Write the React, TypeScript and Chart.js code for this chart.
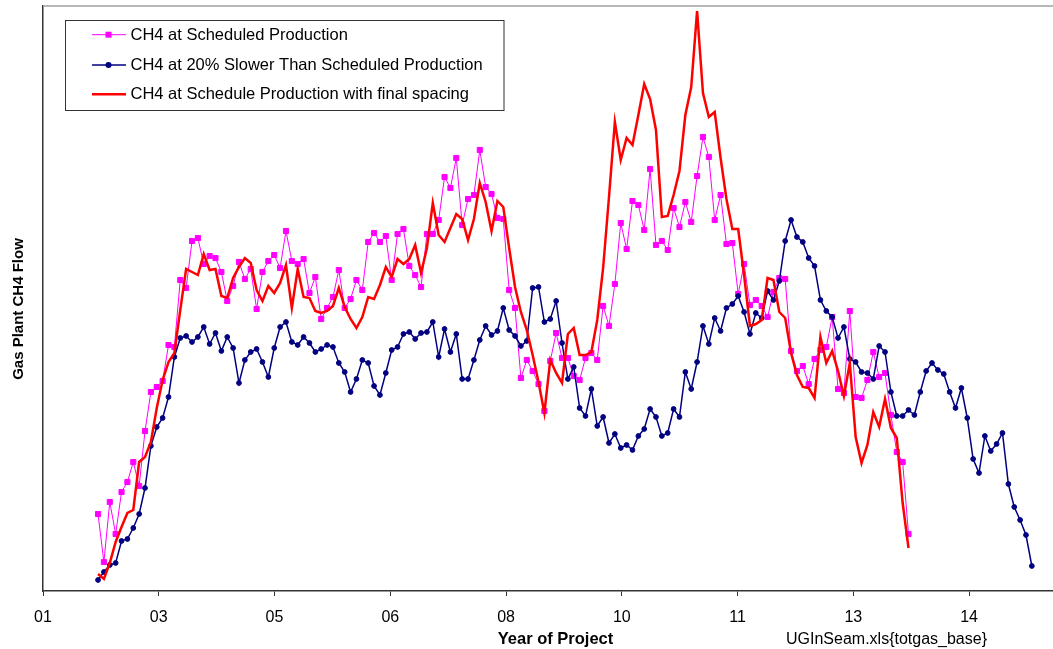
import React, { useEffect, useRef } from "react";
import { Chart, registerables } from "chart.js";

Chart.register(...registerables);

// Monthly values (arbitrary flow units), one point per month from the first month of production
const SCHEDULED: number[] = [
  77, 29, 89, 57, 99, 109, 129, 105, 160, 199,
  204, 210, 246, 244, 311, 303, 350, 353, 327, 335,
  333, 319, 290, 305, 329, 312, 322, 282, 319, 330,
  336, 323, 360, 330, 327, 332, 298, 314, 272, 283,
  294, 321, 283, 292, 311, 301, 349, 358, 349, 355,
  311, 357, 362, 325, 316, 304, 357, 357, 371, 414,
  403, 433, 366, 392, 396, 441, 404, 397, 373, 372,
  301, 283, 213, 231, 220, 207, 180, 230, 258, 233,
  233, 215, 211, 233, 238, 231, 285, 265, 307, 368,
  342, 390, 386, 361, 422, 346, 350, 341, 383, 364,
  389, 369, 415, 454, 434, 371, 396, 347, 348, 297,
  327, 286, 291, 285, 274, 299, 313, 312, 240, 220,
  225, 207, 232, 241, 244, 274, 202, 198, 280, 194,
  193, 211, 239, 214, 218, 176, 139, 129, 57,
];

const SLOWER: number[] = [
  11, 19, 26, 28, 50, 52, 63, 77, 103, 145,
  164, 173, 194, 234, 253, 255, 249, 254, 264, 247,
  258, 240, 254, 243, 208, 231, 239, 242, 229, 214,
  243, 264, 269, 249, 246, 254, 248, 239, 242, 246,
  244, 228, 219, 199, 212, 231, 228, 205, 196, 218,
  241, 244, 257, 259, 252, 258, 259, 269, 234, 262,
  239, 257, 212, 212, 231, 251, 265, 256, 260, 283,
  261, 255, 245, 250, 303, 304, 269, 272, 290, 248,
  212, 224, 183, 175, 202, 165, 174, 148, 157, 143,
  146, 141, 155, 162, 182, 174, 155, 158, 182, 174,
  219, 202, 229, 265, 247, 273, 260, 283, 287, 295,
  279, 257, 278, 273, 300, 291, 310, 350, 371, 354,
  349, 333, 325, 291, 280, 274, 253, 264, 232, 229,
  219, 218, 212, 245, 239, 199, 175, 175, 181, 176,
  199, 220, 228, 221, 217, 199, 183, 203, 173, 132,
  118, 155, 140, 147, 158, 107, 84, 71, 56, 25,
];

const FINAL_SPACING: number[] = [
  17, 12, 28, 49, 64, 78, 81, 129, 134, 149,
  183, 211, 229, 238, 281, 322, 319, 316, 337, 321,
  322, 295, 293, 313, 324, 333, 328, 301, 290, 305,
  298, 308, 326, 283, 322, 294, 293, 280, 278, 280,
  285, 303, 284, 272, 263, 274, 294, 292, 306, 324,
  314, 332, 327, 332, 346, 318, 343, 388, 356, 349,
  363, 377, 372, 351, 372, 408, 389, 360, 390, 384,
  343, 304, 279, 261, 236, 209, 178, 231, 218, 208,
  257, 263, 236, 236, 239, 271, 323, 394, 469, 431,
  453, 446, 476, 507, 492, 461, 374, 375, 396, 420,
  476, 504, 580, 498, 474, 479, 433, 392, 362, 362,
  316, 265, 267, 271, 313, 311, 279, 273, 238, 216,
  204, 203, 193, 254, 228, 240, 220, 195, 228, 154,
  128, 146, 179, 164, 192, 163, 153, 88, 43,
];

const TICK_LABELS: string[] = ["01", "03", "05", "06", "08", "10", "11", "13", "14"];
const FIRST_TICK = -9.37; // months relative to first data point
const TICK_STEP = 19.71; // months between labelled ticks (600 days)
const X_MIN = -9.37;
const X_MAX = 162.6;
const Y_MAX = 585;

const LEGEND_LABELS: string[] = [
  "CH4 at Scheduled Production",
  "CH4 at 20% Slower Than Scheduled Production",
  "CH4 at Schedule Production with final spacing",
];

const MAGENTA = "#FF00FF";
const NAVY = "#000080";
const RED = "#FF0000";
const FONT = '"Liberation Sans", Arial, sans-serif';

const toPoints = (arr: number[]) => arr.map((v, i) => ({ x: i, y: v }));

const extrasPlugin = {
  id: "extras",
  afterLayout(chart: any) {
    // let the plot area run to the right edge of the canvas, as in the original
    const ca = chart.chartArea;
    if (ca.right < chart.width) {
      ca.right = chart.width;
      ca.width = ca.right - ca.left;
      const xs = chart.scales.x;
      xs.right = chart.width;
      xs.width = xs.right - xs.left;
      xs.configure();
    }
  },
  beforeDatasetsDraw(chart: any) {
    const { ctx, chartArea: ca } = chart;
    ctx.save();
    ctx.strokeStyle = "#a0a0a0";
    ctx.lineWidth = 1.5;
    ctx.beginPath();
    ctx.moveTo(ca.left, ca.top);
    ctx.lineTo(chart.width, ca.top);
    ctx.stroke();
    ctx.restore();
  },
  afterDraw(chart: any) {
    const { ctx } = chart;
    ctx.save();
    // Legend box
    ctx.fillStyle = "#ffffff";
    ctx.fillRect(66, 20, 438, 90);
    ctx.strokeStyle = "#333333";
    ctx.lineWidth = 1;
    ctx.strokeRect(65.5, 20.5, 438.5, 90);
    const rows = [34.7, 65, 94.3];
    const colors = [MAGENTA, NAVY, RED];
    const widths = [1, 1.5, 2.5];
    for (let k = 0; k < 3; k++) {
      const y = rows[k];
      ctx.strokeStyle = colors[k];
      ctx.lineWidth = widths[k];
      ctx.beginPath();
      ctx.moveTo(92, y);
      ctx.lineTo(126, y);
      ctx.stroke();
      ctx.fillStyle = colors[k];
      if (k === 0) {
        ctx.fillRect(105.5, y - 3, 6, 6);
      } else if (k === 1) {
        ctx.beginPath();
        ctx.arc(108.5, y, 3, 0, Math.PI * 2);
        ctx.fill();
      }
      ctx.fillStyle = "#000000";
      ctx.font = `16.5px ${FONT}`;
      ctx.textAlign = "left";
      ctx.textBaseline = "middle";
      ctx.fillText(LEGEND_LABELS[k], 130.5, y + 0.5);
    }
    // Axis titles and source note
    ctx.fillStyle = "#000000";
    ctx.font = `bold 16.5px ${FONT}`;
    ctx.textAlign = "center";
    ctx.textBaseline = "alphabetic";
    ctx.fillText("Year of Project", 555.5, 643.5);
    ctx.font = `16px ${FONT}`;
    ctx.textAlign = "left";
    ctx.fillText("UGInSeam.xls{totgas_base}", 786, 643.5);
    ctx.save();
    ctx.translate(19, 309);
    ctx.rotate(-Math.PI / 2);
    ctx.font = `bold 15px ${FONT}`;
    ctx.textAlign = "center";
    ctx.textBaseline = "middle";
    ctx.fillText("Gas Plant CH4 Flow", 0, 0);
    ctx.restore();
    ctx.restore();
  },
};

export default function App() {
  const canvasRef = useRef<HTMLCanvasElement | null>(null);

  useEffect(() => {
    const canvas = canvasRef.current;
    if (!canvas) return;
    const chart = new Chart(canvas, {
      type: "line",
      data: {
        datasets: [
          {
            label: LEGEND_LABELS[0],
            data: toPoints(SCHEDULED),
            borderColor: MAGENTA,
            backgroundColor: MAGENTA,
            borderWidth: 1,
            pointStyle: "rect",
            pointRadius: 3.6,
            pointBorderWidth: 1,
            pointBorderColor: MAGENTA,
            pointBackgroundColor: MAGENTA,
            tension: 0,
            order: 2,
          },
          {
            label: LEGEND_LABELS[1],
            data: toPoints(SLOWER),
            borderColor: NAVY,
            backgroundColor: NAVY,
            borderWidth: 1.5,
            pointStyle: "circle",
            pointRadius: 2.4,
            pointBorderWidth: 1,
            pointBorderColor: NAVY,
            pointBackgroundColor: NAVY,
            tension: 0,
            order: 1,
          },
          {
            label: LEGEND_LABELS[2],
            data: toPoints(FINAL_SPACING),
            borderColor: RED,
            backgroundColor: RED,
            borderWidth: 2.5,
            pointRadius: 0,
            tension: 0,
            order: 0,
          },
        ],
      },
      options: {
        responsive: false,
        animation: false,
        devicePixelRatio: 1,
        layout: { padding: { top: 6, right: 0, left: 0, bottom: 0 } },
        plugins: {
          legend: { display: false },
          tooltip: { enabled: false },
          title: { display: false },
        },
        scales: {
          x: {
            type: "linear",
            position: "bottom",
            min: X_MIN,
            max: X_MAX,
            afterBuildTicks: (scale: any) => {
              scale.ticks = TICK_LABELS.map((_, k) => ({ value: FIRST_TICK + k * TICK_STEP }));
            },
            afterFit: (scale: any) => {
              scale.height = 58;
              scale.paddingLeft = 0;
              scale.paddingRight = 0;
            },
            ticks: {
              autoSkip: false,
              maxRotation: 0,
              minRotation: 0,
              padding: 12,
              color: "#000000",
              font: { size: 16, family: FONT },
              callback: (_v: any, index: number) => TICK_LABELS[index] ?? "",
            },
            grid: {
              display: true,
              drawOnChartArea: false,
              drawTicks: true,
              tickLength: 5,
              color: "#333333",
              lineWidth: 1,
            },
            border: { display: true, color: "#333333", width: 1.5 },
          },
          y: {
            type: "linear",
            min: 0,
            max: Y_MAX,
            afterFit: (scale: any) => {
              scale.width = 43;
            },
            ticks: { display: false },
            grid: { display: false, drawTicks: false },
            border: { display: true, color: "#333333", width: 1.5 },
          },
        },
      },
      plugins: [extrasPlugin],
    });
    return () => chart.destroy();
  }, []);

  return (
    <div style={{ position: "absolute", left: 0, top: 0, width: 1053, height: 649, background: "#ffffff" }}>
      <canvas ref={canvasRef} width={1053} height={649} style={{ display: "block" }} />
    </div>
  );
}
